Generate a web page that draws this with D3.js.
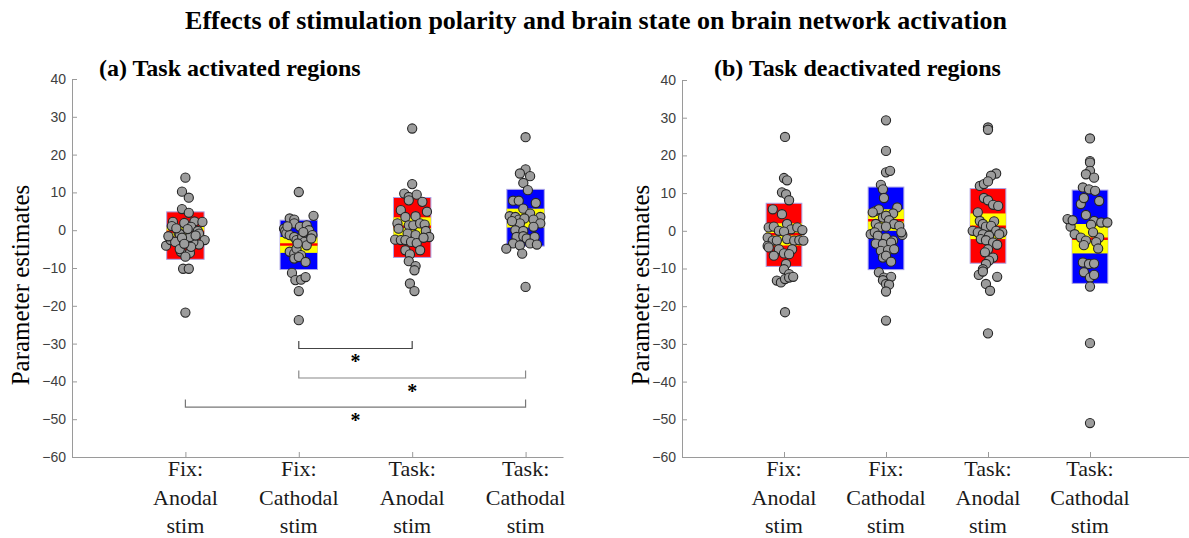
<!DOCTYPE html>
<html>
<head>
<meta charset="utf-8">
<script src="https://cdn.jsdelivr.net/npm/d3@7"></script>
<style>
  body { margin: 0; background: #fff; }
  svg text { font-family: "Liberation Serif", "Times New Roman", serif; }
  .tick text { font-family: "Liberation Sans", Arial, sans-serif; font-size: 14px; fill: #404040; }
  .axis path, .axis line { stroke: #9a9a9a; }
</style>
</head>
<body>
<svg id="chart" width="1189" height="538"></svg>
<script>
// categories and tick labels
var categories = [["Fix:", "Anodal", "stim"], ["Fix:", "Cathodal", "stim"],
                  ["Task:", "Anodal", "stim"], ["Task:", "Cathodal", "stim"]];
var boxColors = ["#ff0000", "#0000ff", "#ff0000", "#0000ff"];
var yTickValues = [40, 30, 20, 10, 0, -10, -20, -30, -40, -50, -60];

// (a) task activated regions: mean, SD box, 95% CI
var actMean   = [-0.4, -3.8, 0.9, 3.2];
var actSdLow  = [-7.7, -10.4, -7.2, -4.2];
var actSdHigh = [4.85, 2.65, 8.65, 10.8];
var actCiLow  = [-1.7, -6.0, -1.6, 0.7];
var actCiHigh = [0.9, -1.8, 3.4, 5.7];

// (b) task deactivated regions
var deactMean   = [-0.9, 2.8, 1.1, -2.1];
var deactSdLow  = [-9.45, -10.3, -8.6, -13.95];
var deactSdHigh = [7.3, 11.6, 11.2, 10.8];
var deactCiLow  = [-3.9, 0.0, -2.2, -6.0];
var deactCiHigh = [2.0, 5.7, 4.6, 1.8];

// individual subjects: [jitter (category units), value]
var actFixAnodal = [[0,13.9],[-0.03,10.2],[0.03,8.6],[-0.03,5.6],[0.03,4.6],[-0.11,2.2],[-0.12,1.1],[-0.01,1.9],
  [0.08,2.3],[0.15,2.2],[0.05,0.9],[0.11,-0.2],[0.12,-0.9],[-0.06,-0.7],[-0.05,-1.0],[-0.17,-4.1],[-0.13,-2.6],
  [-0.09,-3.1],[-0.04,-5.7],[0.04,-6.0],[0,-7.0],[-0.02,-10.2],[0.03,-10.2],[0.17,-2.6],[0.12,-3.8],[0.07,-3.1],
  [0.04,-1.8],[-0.03,-2.0],[0.02,0.3],[-0.08,0.5],[0.09,-1.4],[-0.15,-1.6],[0,-21.8],[-0.05,-5.0],[0.05,-4.4],[-0.01,-3.6]];
var actFixCathodal = [[0,10.1],[-0.08,3.1],[-0.04,2.8],[0.13,3.8],[-0.13,0.4],[-0.12,-0.2],[-0.11,-0.9],[-0.04,1.8],
  [0.01,0.9],[0.07,1.3],[0.09,0.0],[0.12,-1.3],[-0.08,-1.3],[-0.04,-1.8],[-0.02,-2.6],[0.03,-1.8],[0.05,-3.1],
  [0.07,-4.0],[-0.08,-5.7],[-0.04,-6.2],[-0.02,-4.9],[0.02,-6.6],[-0.04,-7.5],[0,-7.1],[0.06,-8.4],[-0.06,-11.3],
  [-0.03,-13.2],[0.02,-13.1],[0.06,-12.4],[0,-16.1],[0,-23.8],[-0.1,1.0],[0.04,-0.5],[0.11,-2.2],[-0.01,-3.5]];
var actTaskAnodal = [[0,26.9],[0,12.2],[-0.07,9.7],[-0.03,8.8],[0.04,9.4],[0.09,7.5],[-0.03,7.9],[-0.1,5.3],
  [0.13,4.9],[0.03,3.7],[-0.06,3.5],[-0.13,1.8],[-0.03,1.3],[0.01,1.3],[0.07,1.8],[0.11,1.5],[0.12,-0.2],
  [0.15,-1.8],[-0.04,-0.9],[0.03,-1.3],[-0.15,-2.5],[-0.1,-2.6],[-0.06,-2.6],[-0.01,-3.1],[0.04,-3.4],[-0.06,-5.3],
  [0.07,-5.3],[-0.02,-6.4],[-0.03,-8.2],[0.03,-9.5],[0.02,-10.6],[-0.02,-14.1],[0.02,-16.1],[0.1,-2.0],[-0.12,0.4]];
var actTaskCathodal = [[0,24.6],[0,16.1],[-0.05,15.0],[0.04,14.3],[-0.02,12.5],[0.02,10.6],[-0.11,7.8],[-0.06,7.8],
  [0.09,7.2],[-0.02,5.7],[0.04,4.4],[-0.14,3.7],[-0.09,3.5],[0.13,3.5],[-0.06,2.8],[-0.01,3.1],[0.07,2.8],
  [-0.05,1.8],[0.13,1.8],[-0.12,2.4],[-0.09,0],[-0.02,-0.2],[0.07,0.9],[-0.08,-1.8],[-0.02,-1.6],[0.01,-2.2],
  [0.08,-1.8],[-0.11,-3.5],[-0.05,-4.0],[0.04,-3.5],[0.1,-3.8],[-0.17,-4.9],[-0.03,-6.2],[0,-15.0]];

var deactFixAnodal = [[0.01,24.9],[0,14.0],[0.03,13.4],[-0.02,10.2],[0.02,9.7],[0.05,8.1],[-0.11,5.7],[-0.02,4.4],
  [-0.15,0.9],[-0.1,1.1],[0.03,1.8],[0.07,0.4],[0.13,0.9],[0.18,0.2],[-0.05,0],[0,-0.2],[-0.16,-1.8],[-0.11,-2.6],
  [-0.07,-2.6],[0.03,-2.2],[0.1,-2.6],[0.15,-2.5],[0.19,-2.6],[-0.16,-4.0],[-0.15,-4.4],[-0.05,-4.9],[0.08,-4.9],
  [0,-6.0],[0.05,-6.2],[-0.1,-6.6],[0.02,-8.8],[0,-10.2],[0.05,-11.5],[-0.07,-13.2],[-0.03,-13.7],[0.01,-12.8],
  [0.05,-12.4],[0.09,-12.2],[0.01,-21.6]];
var deactFixCathodal = [[0,29.3],[0,21.2],[0,15.5],[0.04,15.9],[-0.05,12.2],[-0.03,11.0],[-0.02,8.7],[-0.1,5.3],
  [-0.07,5.7],[0.11,6.2],[-0.13,4.9],[0.07,4.6],[-0.03,3.5],[0,4.0],[0.03,2.8],[-0.1,1.8],[0.08,1.8],[-0.07,0.9],
  [0,1.1],[0.13,1.3],[-0.15,-0.9],[-0.11,-0.4],[0.16,-1.1],[0.15,-0.4],[-0.08,-1.3],[0,-1.8],[0.07,-2.6],
  [-0.1,-3.4],[-0.03,-3.5],[0.05,-3.1],[-0.05,-5.3],[0.02,-5.1],[0.08,-4.9],[-0.03,-7.1],[0,-6.6],[0.05,-8.2],
  [-0.07,-11.0],[-0.02,-12.4],[0.05,-12.2],[-0.03,-13.1],[0,-14.1],[0.03,-14.3],[0,-16.1],[0,-23.8]];
var deactTaskAnodal = [[0,27.4],[0,26.8],[0.08,15.2],[0.03,14.6],[-0.08,11.9],[-0.04,12.4],[0,13.1],[-0.04,8.7],
  [0,8.1],[0.05,6.9],[0.1,6.6],[-0.1,4.9],[-0.08,2.6],[-0.05,1.8],[0.06,2.5],[-0.02,1.1],[0.03,1.3],[-0.15,0],
  [-0.1,-0.4],[0.08,0],[0.14,-0.4],[-0.05,-0.9],[0.01,-1.3],[0.11,-0.9],[-0.07,-2.2],[-0.02,-2.5],[0.05,-3.1],
  [0.09,-3.7],[0,-4.9],[-0.03,-5.7],[0.05,-7.1],[0.01,-7.9],[-0.02,-8.8],[-0.05,-10.2],[-0.09,-11.7],[-0.05,-10.8],
  [0.09,-12.2],[-0.02,-14.1],[0.02,-15.9],[0,-27.2]];
var deactTaskCathodal = [[0,24.5],[0,18.5],[0,18.1],[0,15.9],[-0.04,15.0],[0.04,14.1],[-0.07,11.5],[-0.01,11.0],
  [0.05,10.6],[0.09,7.9],[-0.09,7.1],[-0.06,8.7],[-0.04,4.2],[-0.19,1.1],[-0.22,3.1],[-0.17,2.8],[0.04,2.6],
  [0.11,2.2],[0.17,2.2],[0.01,1.6],[-0.15,-0.9],[-0.09,-1.8],[0.09,-1.8],[-0.04,-2.6],[0.03,-0.4],[0.06,-3.0],
  [-0.06,-3.8],[0.08,-4.7],[-0.07,-8.4],[-0.01,-8.8],[0.04,-8.7],[-0.06,-11.0],[0,-12.4],[0.04,-11.7],[0,-14.8],
  [0,-29.8],[0,-51.0]];

// significance brackets for panel (a): [from category, to category, level]
var sigFrom  = [2, 2, 1];
var sigTo    = [3, 4, 4];
var sigLevel = [-31.3, -39.1, -46.8];

var panels = [
  { title: "(a) Task activated regions", titleX: 99, labelX: 29,
    xr: [72, 563], xd: [0, 4.33], yr: [457, 79], half: 0.165,
    mean: actMean, sdLow: actSdLow, sdHigh: actSdHigh, ciLow: actCiLow, ciHigh: actCiHigh,
    points: [actFixAnodal, actFixCathodal, actTaskAnodal, actTaskCathodal], sig: true },
  { title: "(b) Task deactivated regions", titleX: 714, labelX: 649,
    xr: [682, 1192], xd: [0, 5], yr: [457, 80], half: 0.175,
    mean: deactMean, sdLow: deactSdLow, sdHigh: deactSdHigh, ciLow: deactCiLow, ciHigh: deactCiHigh,
    points: [deactFixAnodal, deactFixCathodal, deactTaskAnodal, deactTaskCathodal], sig: false }
];

var svg = d3.select("#chart");

svg.append("text")
  .attr("x", 596).attr("y", 29)
  .attr("text-anchor", "middle")
  .style("font-size", "26px").style("font-weight", "bold")
  .text("Effects of stimulation polarity and brain state on brain network activation");

panels.forEach(function(p) {
  var x = d3.scaleLinear().domain(p.xd).range(p.xr);
  var y = d3.scaleLinear().domain([-60, 40]).range(p.yr);
  var g = svg.append("g");

  g.append("text")
    .attr("x", p.titleX).attr("y", 76)
    .style("font-size", "24px").style("font-weight", "bold")
    .text(p.title);

  g.append("text")
    .attr("transform", "translate(" + p.labelX + ",285) rotate(-90)")
    .attr("text-anchor", "middle")
    .style("font-size", "25px")
    .text("Parameter estimates");

  // axes, MATLAB style ticks pointing inwards
  g.append("g")
    .attr("class", "axis")
    .attr("transform", "translate(" + p.xr[0] + ",0)")
    .call(d3.axisLeft(y).tickValues(yTickValues).tickSizeInner(-5).tickSizeOuter(0).tickPadding(6));

  g.append("g")
    .attr("class", "axis")
    .attr("transform", "translate(0," + p.yr[0] + ")")
    .call(d3.axisBottom(x).tickValues([1, 2, 3, 4]).tickSizeInner(-5).tickSizeOuter(0).tickFormat(""));

  // category labels
  categories.forEach(function(lines, i) {
    var t = g.append("text")
      .attr("text-anchor", "middle")
      .style("font-size", "22px")
      .attr("fill", "#1a1a1a");
    lines.forEach(function(s, j) {
      t.append("tspan").attr("x", x(i + 1)).attr("y", 476 + j * 28.5).text(s);
    });
  });

  var idx = d3.range(categories.length);

  // SD box
  g.selectAll(".sd").data(idx).enter().append("rect")
    .attr("class", "sd")
    .attr("x", function(i) { return x(i + 1 - p.half); })
    .attr("width", function(i) { return x(i + 1 + p.half) - x(i + 1 - p.half); })
    .attr("y", function(i) { return y(p.sdHigh[i]); })
    .attr("height", function(i) { return y(p.sdLow[i]) - y(p.sdHigh[i]); })
    .attr("fill", function(i) { return boxColors[i]; })
    .attr("stroke", "#a9a2e6").attr("stroke-width", 1);

  // 95% CI
  g.selectAll(".ci").data(idx).enter().append("rect")
    .attr("class", "ci")
    .attr("x", function(i) { return x(i + 1 - p.half); })
    .attr("width", function(i) { return x(i + 1 + p.half) - x(i + 1 - p.half); })
    .attr("y", function(i) { return y(p.ciHigh[i]); })
    .attr("height", function(i) { return y(p.ciLow[i]) - y(p.ciHigh[i]); })
    .attr("fill", "#ffff00");

  // mean
  g.selectAll(".mean").data(idx).enter().append("line")
    .attr("x1", function(i) { return x(i + 1 - p.half); })
    .attr("x2", function(i) { return x(i + 1 + p.half); })
    .attr("y1", function(i) { return y(p.mean[i]); })
    .attr("y2", function(i) { return y(p.mean[i]); })
    .attr("stroke", "#ff0000").attr("stroke-width", 2.5);

  // subjects
  p.points.forEach(function(pts, i) {
    g.selectAll(null).data(pts).enter().append("circle")
      .attr("cx", function(d) { return x(i + 1 + d[0]); })
      .attr("cy", function(d) { return y(d[1]); })
      .attr("r", 4.6)
      .attr("fill", "#9c9c9c")
      .attr("stroke", "#262626").attr("stroke-width", 1.1);
  });

  if (p.sig) {
    var bColors = ["#444", "#888", "#777"];
    sigLevel.forEach(function(lv, k) {
      var x1 = x(sigFrom[k]), x2 = x(sigTo[k]), yy = y(lv), yt = y(lv + 2);
      g.append("path")
        .attr("d", "M" + x1 + "," + yt + "V" + yy + "H" + x2 + "V" + yt)
        .attr("fill", "none").attr("stroke", bColors[k]).attr("stroke-width", 1.2);
      g.append("text")
        .attr("x", (x1 + x2) / 2).attr("y", y(lv - 2.8) + 9)
        .attr("text-anchor", "middle")
        .style("font-size", "20px").style("font-weight", "bold")
        .text("*");
    });
  }
});
</script>
</body>
</html>
